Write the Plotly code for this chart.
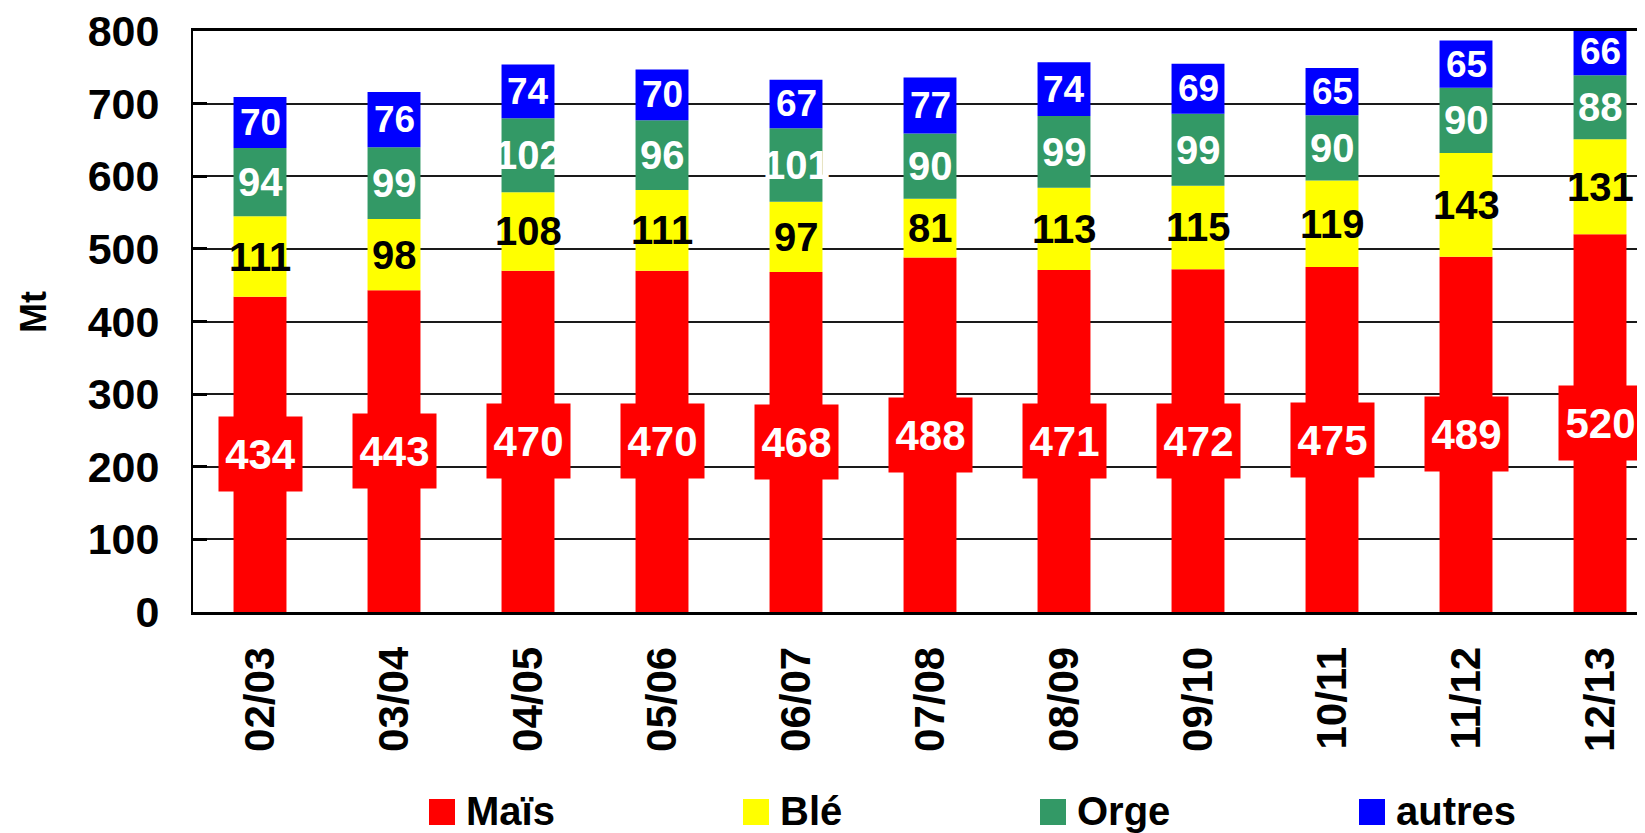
import plotly.graph_objects as go

# campagnes and production (Mt) per crop
CAMPAIGNS = ["02/03", "03/04", "04/05", "05/06", "06/07", "07/08",
             "08/09", "09/10", "10/11", "11/12", "12/13"]
MAIS = [434, 443, 470, 470, 468, 488, 471, 472, 475, 489, 520]
BLE = [111, 98, 108, 111, 97, 81, 113, 115, 119, 143, 131]
ORGE = [94, 99, 102, 96, 101, 90, 99, 99, 90, 90, 88]
AUTRES = [70, 76, 74, 70, 67, 77, 74, 69, 65, 65, 66]
Y_TICKS = [0, 100, 200, 300, 400, 500, 600, 700, 800]

SERIES = [
    ("Maïs", MAIS, "#ff0000", "white"),
    ("Blé", BLE, "#ffff00", "black"),
    ("Orge", ORGE, "#339966", "white"),
    ("autres", AUTRES, "#0000ff", "white"),
]
LABEL_SIZE = {"Maïs": 42, "Blé": 40, "Orge": 40, "autres": 37}

FONT = "Arial, Liberation Sans, sans-serif"
PAGE_OFFSET = 8  # body margin of the html page
W, H = 1645 - PAGE_OFFSET, 833 - PAGE_OFFSET
MARGIN = dict(l=185, r=0, t=23, b=221)
PLOT_W = W - MARGIN["l"] - MARGIN["r"]
PLOT_H = H - MARGIN["t"] - MARGIN["b"]


# screen pixel -> paper coords
def px_x(x):
    return (x - PAGE_OFFSET - MARGIN["l"]) / PLOT_W


def px_y(y):
    return (H - MARGIN["b"] - (y - PAGE_OFFSET)) / PLOT_H


fig = go.Figure()
annotations = []
base = [0] * len(CAMPAIGNS)
for name, vals, color, txt_color in SERIES:
    fig.add_trace(go.Bar(
        x=CAMPAIGNS, y=vals, base=base, name=name,
        marker=dict(color=color, line=dict(width=0)),
        width=0.395, showlegend=False, hoverinfo="x+y+name",
    ))
    for cat, b, v in zip(CAMPAIGNS, base, vals):
        ann = dict(
            x=cat, y=b + v / 2, xref="x", yref="y", text=str(v),
            showarrow=False,
            font=dict(family=FONT, size=LABEL_SIZE[name], color=txt_color,
                      weight="bold"),
        )
        if name == "Maïs":
            ann.update(bgcolor=color, width=81, height=72, borderpad=1)
        annotations.append(ann)
    base = [b + v for b, v in zip(base, vals)]

# legend drawn by hand so the swatches match the big text
LEGEND_LEFT_PX = [429, 743, 1040, 1359]
shapes = []
for (name, _, color, _), lx in zip(SERIES, LEGEND_LEFT_PX):
    shapes.append(dict(
        type="rect", xref="paper", yref="paper",
        x0=px_x(lx), x1=px_x(lx + 26), y0=px_y(825), y1=px_y(799),
        fillcolor=color, line=dict(width=0),
    ))
    annotations.append(dict(
        x=px_x(lx + 35), y=px_y(811), xref="paper", yref="paper",
        xanchor="left", yanchor="middle", text=name, showarrow=False,
        font=dict(family=FONT, size=40, color="black", weight="bold"),
    ))

annotations.append(dict(
    x=px_x(33), y=px_y(312), xref="paper", yref="paper", text="Mt",
    xanchor="center", yanchor="middle",
    textangle=-90, showarrow=False,
    font=dict(family=FONT, size=36, color="black", weight="bold"),
))

fig.update_layout(
    width=W, height=H,
    margin=MARGIN,
    paper_bgcolor="white", plot_bgcolor="white",
    barmode="overlay",
    annotations=annotations,
    shapes=shapes,
    showlegend=False,
)
fig.update_xaxes(
    type="category", range=[-0.5, -0.5 + PLOT_W / 134],
    tickangle=-90, ticks="", showgrid=False,
    showline=True, linecolor="black", linewidth=3, mirror=True,
    tickfont=dict(family=FONT, size=42, color="black", weight="bold"),
    ticklabelstandoff=15,
)
fig.update_yaxes(
    range=[0, 800], tickvals=Y_TICKS,
    showgrid=True, gridcolor="#1a1a1a", gridwidth=2,
    showline=True, linecolor="black", linewidth=2,
    ticks="inside", ticklen=14, tickwidth=3, tickcolor="black",
    tickfont=dict(family=FONT, size=43, color="black", weight="bold"),
    ticklabelstandoff=23, ticklabeloverflow="allow", zeroline=False,
)

fig.write_html("out.html")
